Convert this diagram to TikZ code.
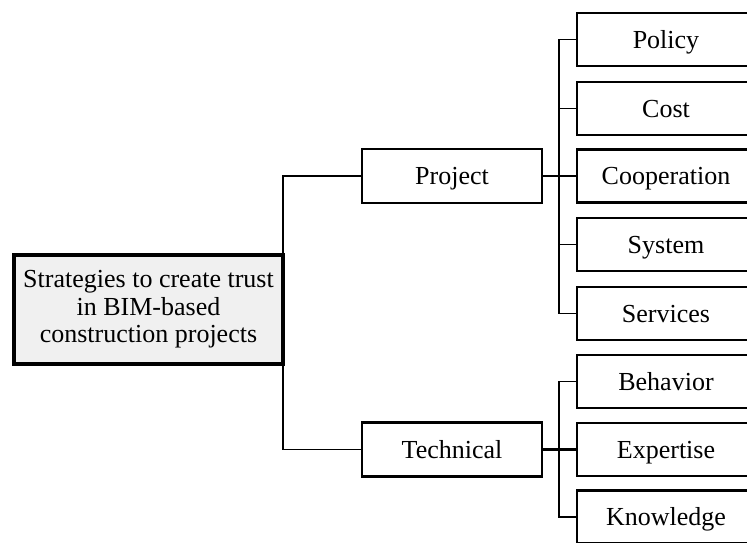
\documentclass[tikz,border=0pt]{standalone}
\usepackage{fontspec}
\setmainfont{Liberation Serif}
\begin{document}
\begin{tikzpicture}[x=1pt,y=-1pt,
  every node/.style={font=\fontsize{26}{27.5}\selectfont, align=center, inner sep=0pt, outer sep=0pt},
  rootbox/.style={draw, line width=3.2pt, fill=black!6, minimum width=269pt, minimum height=109pt},
  midbox/.style={draw, line width=2.8pt, fill=white, minimum width=180pt, minimum height=54pt, text height=17.2pt, text depth=0pt},
  leafbox/.style={draw, line width=2.8pt, fill=white, minimum width=178pt, minimum height=53pt, text height=17.2pt, text depth=0pt},
  conn/.style={line width=1.3pt},
  connthick/.style={line width=2.2pt}]
\useasboundingbox (0,0) rectangle (747,543);
\clip (0,0) rectangle (747,543);

\node[rootbox] (root) at (148.5,309.5) {Strategies to create trust\\in BIM-based\\construction projects};
\node[midbox] (project) at (452,176) {Project};
\node[midbox] (technical) at (452,449.5) {Technical};

\node[leafbox] (policy) at (666,39.5) {Policy};
\node[leafbox] (cost) at (666,108.5) {Cost};
\node[leafbox] (cooperation) at (666,176) {Cooperation};
\node[leafbox] (system) at (666,244.5) {System};
\node[leafbox] (services) at (666,313.5) {Services};
\node[leafbox] (behavior) at (666,381.5) {Behavior};
\node[leafbox] (expertise) at (666,449.5) {Expertise};
\node[leafbox] (knowledge) at (666,517) {Knowledge};

\coordinate (pj) at (559,176);
\coordinate (tj) at (559,449.5);

\draw[conn] (root.north east) |- (project.west);
\draw[conn] (root.south east) |- (technical.west);

\draw[connthick] (project.east) -- (cooperation.west);
\draw[conn] (policy.west) -| (pj) |- (services.west);
\draw[conn] (cost.west) -| (pj);
\draw[conn] (system.west) -| (pj);

\draw[connthick] (technical.east) -- (expertise.west);
\draw[conn] (behavior.west) -| (tj) |- (knowledge.west);
\end{tikzpicture}
\end{document}
